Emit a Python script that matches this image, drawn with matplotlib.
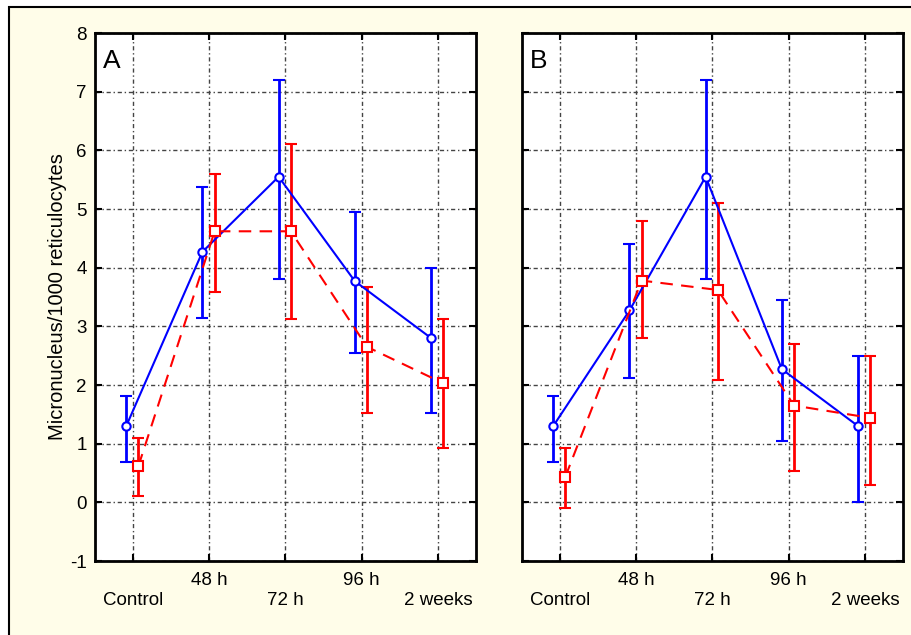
import numpy as np
import matplotlib.pyplot as plt
from matplotlib.patches import Rectangle

plt.rcParams["font.family"] = ["Liberation Sans", "DejaVu Sans"]

# Data
groups = ["Control", "48 h", "72 h", "96 h", "2 weeks"]
tick_labels = ["\nControl", "48 h", "\n72 h", "96 h", "\n2 weeks"]

a_blue = [1.30, 4.27, 5.55, 3.77, 2.80]
a_blue_lo = [0.68, 3.15, 3.80, 2.55, 1.53]
a_blue_hi = [1.82, 5.37, 7.20, 4.95, 4.00]
a_red = [0.62, 4.62, 4.62, 2.65, 2.03]
a_red_lo = [0.10, 3.58, 3.12, 1.53, 0.92]
a_red_hi = [1.10, 5.60, 6.10, 3.67, 3.12]

b_blue = [1.30, 3.27, 5.55, 2.27, 1.30]
b_blue_lo = [0.68, 2.12, 3.80, 1.04, 0.00]
b_blue_hi = [1.82, 4.40, 7.20, 3.45, 2.50]
b_red = [0.44, 3.78, 3.62, 1.65, 1.44]
b_red_lo = [-0.10, 2.80, 2.08, 0.53, 0.29]
b_red_hi = [0.92, 4.80, 5.10, 2.70, 2.50]

W, H = 912, 635
fig = plt.figure(figsize=(W / 100, H / 100), dpi=100, facecolor="white")
fig.patches.append(Rectangle((9 / W, -0.05), 1.0, 1 - 7 / H + 0.05,
                             transform=fig.transFigure, facecolor="#fffde9",
                             edgecolor="black", linewidth=1.5, zorder=-10))

x = np.arange(1, 6)


def panel(left, right, letter, blue, blo, bhi, red, rlo, rhi, show_y):
    ax = fig.add_axes([left / W, 1 - 561 / H, (right - left) / W, (561 - 33) / H])
    ax.set_facecolor("white")
    ax.set_xlim(0.5, 5.5)
    ax.set_ylim(-1, 8)
    ax.set_xticks(x)
    ax.set_xticklabels(tick_labels, fontsize=13.5, linespacing=1.25)
    ax.set_yticks(range(-1, 9))
    if show_y:
        ax.set_yticklabels([str(v) for v in range(-1, 9)], fontsize=13.5)
        ax.set_ylabel("Micronucleus/1000 reticulocytes", fontsize=14.5, labelpad=2)
    else:
        ax.set_yticklabels([])
    ax.tick_params(direction="in", length=5, width=1.5, top=True, right=True, pad=6)
    ax.tick_params(axis="x", pad=8)
    for s in ax.spines.values():
        s.set_linewidth(2)
    ax.grid(True, color="#444444", linewidth=1, dashes=(3, 2, 1, 2))

    xb = x - 0.09
    xr = x + 0.07
    bb = np.array(blue)
    rr = np.array(red)
    ax.errorbar(xb, bb, yerr=[bb - np.array(blo), np.array(bhi) - bb],
                color="#0000ff", linewidth=1.5, elinewidth=2, capsize=4, capthick=2,
                marker="o", markersize=6, markerfacecolor="white",
                markeredgewidth=1.5, zorder=3)
    ax.errorbar(xr, rr, yerr=[rr - np.array(rlo), np.array(rhi) - rr],
                color="#ff0000", linewidth=1.5, linestyle=(0, (6, 4)), elinewidth=2,
                capsize=4, capthick=2, marker="s", markersize=7,
                markerfacecolor="white", markeredgewidth=1.5, zorder=3)
    ax.text(0.02, 0.97, letter, transform=ax.transAxes, fontsize=19,
            va="top", ha="left")
    return ax


panel(95, 476, "A", a_blue, a_blue_lo, a_blue_hi, a_red, a_red_lo, a_red_hi, True)
panel(522, 903, "B", b_blue, b_blue_lo, b_blue_hi, b_red, b_red_lo, b_red_hi, False)

fig.savefig("out.png", dpi=100, facecolor=fig.get_facecolor())
